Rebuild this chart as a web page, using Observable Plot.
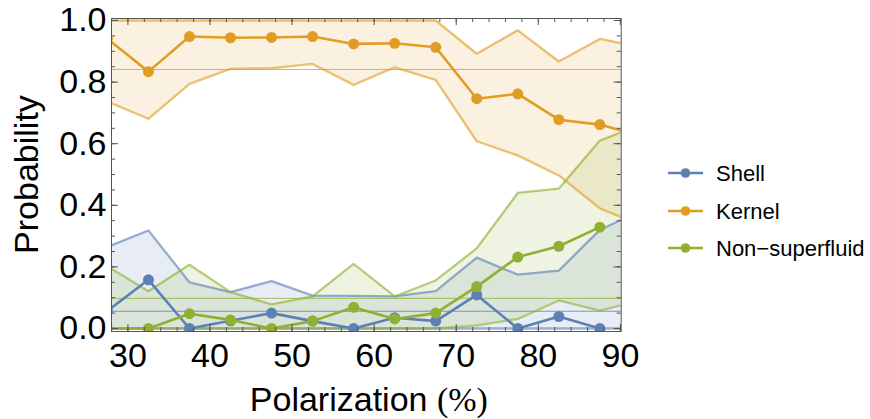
<!DOCTYPE html>
<html><head><meta charset="utf-8">
<script src="https://cdn.jsdelivr.net/npm/d3@7"></script>
<script src="https://cdn.jsdelivr.net/npm/@observablehq/plot@0.6"></script>
<style>
body{margin:0;background:#fff;}
#wrap{position:relative;width:870px;height:419px;font-family:"Liberation Sans",Arial,sans-serif;}
#legend{position:absolute;left:0;top:0;width:870px;height:419px;pointer-events:none;}
</style></head><body><div id="wrap"><div id="chart"></div><svg id="legend" width="870" height="419"></svg></div>
<script>
// ---- data ----
const polarization = [27.5, 32.5, 37.5, 42.5, 47.5, 52.5, 57.5, 62.5, 67.5, 72.5, 77.5, 82.5, 87.5, 92.5];

const shellMean  = [0.057, 0.158, 0, 0.025, 0.050, 0.024, 0, 0.035, 0.024, 0.109, 0, 0.039, 0, null];
const shellUpper = [0.265, 0.318, 0.150, 0.118, 0.154, 0.107, 0.106, 0.104, 0.121, 0.230, 0.175, 0.188, 0.320, 0.383];
const shellLower = [0, 0, 0, 0, 0, 0, 0, 0, 0, 0, 0, 0, 0, 0];

const kernelMean  = [0.941, 0.834, 0.948, 0.944, 0.945, 0.948, 0.924, 0.926, 0.913, 0.746, 0.762, 0.678, 0.662, 0.625];
const kernelUpper = [1, 1, 1, 1, 1, 1, 1, 1, 1, 0.892, 0.968, 0.867, 0.940, 0.913];
const kernelLower = [0.737, 0.681, 0.794, 0.843, 0.845, 0.859, 0.791, 0.848, 0.807, 0.608, 0.562, 0.497, 0.390, 0.335];

const nsfMean  = [0, 0, 0.048, 0.028, 0, 0.024, 0.069, 0.031, 0.050, 0.136, 0.232, 0.267, 0.329, null];
const nsfUpper = [0.202, 0.121, 0.207, 0.118, 0.078, 0.104, 0.210, 0.104, 0.156, 0.260, 0.440, 0.454, 0.610, 0.662];
const nsfLower = [0, 0, 0, 0, 0, 0, 0, 0, 0, 0.010, 0.031, 0.091, 0.058, 0.091];

const seriesNames = ["Shell", "Kernel", "Non\u2212superfluid"];
const seriesColors = ["#5E81B5", "#E19C24", "#8FB032"];
const referenceLevels = [0.056, 0.841, 0.098];

const xTickLabels = [30, 40, 50, 60, 70, 80, 90];
const xMinorTicks = d3.range(28, 91, 2);
const yTickLabels = [0, 0.2, 0.4, 0.6, 0.8, 1.0];
const yMinorTicks = d3.range(0, 1.001, 0.05);

// ---- layout ----
const W = 870, H = 419;
const mL = 111, mR = 249.3, mT = 18, mB = 88;
const plotW = W - mL - mR, plotH = H - mT - mB;

const series = [
  {mean: shellMean, upper: shellUpper, lower: shellLower},
  {mean: kernelMean, upper: kernelUpper, lower: kernelLower},
  {mean: nsfMean, upper: nsfUpper, lower: nsfLower}
].map((s, i) => ({...s, name: seriesNames[i], color: seriesColors[i], ref: referenceLevels[i]}));

const marks = [];
for (const s of series) {
  marks.push(Plot.areaY(polarization, {x: polarization, y1: s.lower, y2: s.upper, fill: s.color, fillOpacity: 0.14, clip: true}));
}
for (const s of series) {
  marks.push(Plot.lineY(polarization, {x: polarization, y: s.upper, stroke: s.color, strokeOpacity: 0.62, strokeWidth: 2.3, clip: true}));
  marks.push(Plot.lineY(polarization, {x: polarization, y: s.lower, stroke: s.color, strokeOpacity: 0.62, strokeWidth: 2.3, clip: true}));
  marks.push(Plot.ruleY([s.ref], {stroke: s.color, strokeOpacity: 0.8, strokeWidth: 1}));
}
for (const s of series) {
  marks.push(Plot.lineY(polarization, {x: polarization, y: s.mean, stroke: s.color, strokeWidth: 2.6, clip: true}));
  marks.push(Plot.dot(polarization, {x: polarization, y: s.mean, fill: s.color, r: 5.5, clip: true}));
}
const tickColor = "#555";
marks.push(
  Plot.tickX(xMinorTicks, {x: d => d, insetTop: plotH - 4, stroke: tickColor}),
  Plot.tickX(xMinorTicks, {x: d => d, insetBottom: plotH - 4, stroke: tickColor}),
  Plot.tickX(xTickLabels, {x: d => d, insetTop: plotH - 7, stroke: tickColor}),
  Plot.tickX(xTickLabels, {x: d => d, insetBottom: plotH - 7, stroke: tickColor}),
  Plot.tickY(yMinorTicks, {y: d => d, insetRight: plotW - 4, stroke: tickColor}),
  Plot.tickY(yMinorTicks, {y: d => d, insetLeft: plotW - 4, stroke: tickColor}),
  Plot.tickY(yTickLabels, {y: d => d, insetRight: plotW - 7, stroke: tickColor}),
  Plot.tickY(yTickLabels, {y: d => d, insetLeft: plotW - 7, stroke: tickColor}),
  Plot.frame({stroke: tickColor, strokeWidth: 1}),
  Plot.axisX({ticks: xTickLabels, tickSize: 0, tickPadding: 11, label: null, tickFormat: d => String(d), fontSize: 34, fill: "#000"}),
  Plot.axisY({ticks: yTickLabels, tickSize: 0, tickPadding: 5, label: null, tickFormat: d3.format(".1f"), fontSize: 34, fill: "#000"})
);

const chart = Plot.plot({
  width: W, height: H,
  marginLeft: mL, marginRight: mR, marginTop: mT, marginBottom: mB,
  x: {domain: [28, 90.1]},
  y: {domain: [-3 / 308, 1 + 2 / 308]},
  style: {fontFamily: "'Liberation Sans', Arial, sans-serif", fontSize: "34px", background: "white", color: "#000"},
  marks
});
document.getElementById("chart").appendChild(chart);

// axis titles
const svg = d3.select(chart);
const xl = svg.append("text")
  .attr("x", mL + plotW / 2 + 3).attr("y", 411)
  .attr("text-anchor", "middle").attr("fill", "#000")
  .style("font-size", "34px");
xl.append("tspan").style("font-family", "'Liberation Sans', Arial, sans-serif").text("Polarization ");
xl.append("tspan").style("font-family", "'Liberation Serif', 'Times New Roman', serif").text("(%)");
svg.append("text")
  .attr("transform", `translate(38,${mT + plotH / 2}) rotate(-90)`)
  .attr("text-anchor", "middle").attr("fill", "#000")
  .style("font-size", "34px")
  .text("Probability");

// legend
const lg = d3.select("#legend");
const rowY = [173, 211, 248];
series.forEach((s, i) => {
  const g = lg.append("g").attr("transform", `translate(0,${rowY[i]})`);
  g.append("line").attr("x1", 668).attr("x2", 703).attr("y1", 0).attr("y2", 0)
    .attr("stroke", s.color).attr("stroke-width", 2.5);
  g.append("circle").attr("cx", 685.5).attr("cy", 0).attr("r", 4.8).attr("fill", s.color);
  g.append("text").attr("x", 716).attr("y", 0).attr("dy", "0.35em")
    .attr("fill", "#000")
    .style("font-family", "'Liberation Sans', Arial, sans-serif")
    .style("font-size", "22px").text(s.name);
});
</script>
</body></html>
